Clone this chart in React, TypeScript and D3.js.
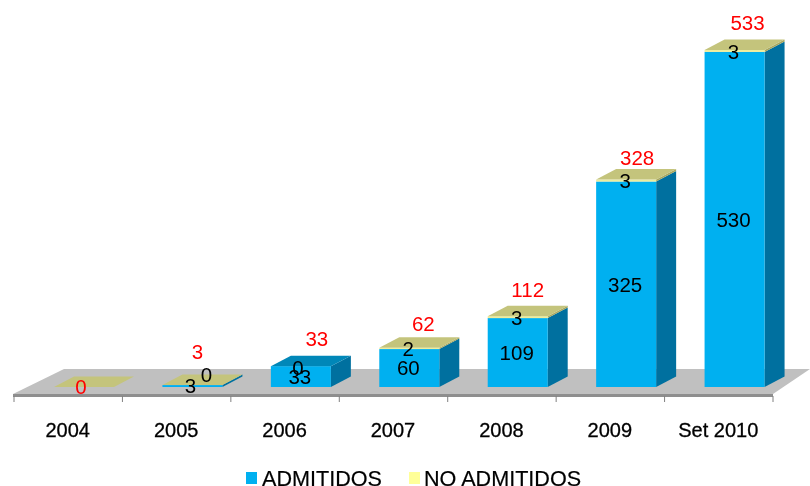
import React from "react";
import * as d3 from "d3";

const categories = ["2004", "2005", "2006", "2007", "2008", "2009", "Set 2010"];
const admitidos = [0, 3, 33, 60, 109, 325, 530];
const noAdmitidos = [0, 0, 0, 2, 3, 3, 3];
const totals = [0, 3, 33, 62, 112, 328, 533];
const showInner = [false, true, true, true, true, true, true];
const showUpper = [false, true, true, true, true, true, true];

// hand-placed label nudges seen in the reference (dx, dy from the default spot)
const totalNudgeX = [-3, 5, 16, 14, 10, 11, 13];
const totalNudgeY = [0, -33, -28, -24, -27, -22, -27];
const upperNudgeX = [0, 14, -3, -1, -1, -1, -1];
const upperNudgeY = [0, -10, 1, 0, 0, 0, 1];

const W = 810, H = 486;
const DX = 20, DY = -10.5;
const FONT = "'Liberation Sans', Arial, sans-serif";
const BLUE = "#00B0F0", BLUE_SIDE = "#00709F", BLUE_TOP = "#0087B8";
const Y_FRONT = "#EDED9C", Y_TOP = "#C4C47C", Y_SIDE = "#A8A860";

export default function App() {
  const x = d3.scaleBand<string>().domain(categories).range([14, 773]);
  const y = d3.scaleLinear().domain([0, 533]).range([387, 50]);
  const bw = 60;
  const left = (c: string) => (x(c) as number) + 40;
  const poly = (pts: [number, number][]) => pts.map((p) => p.join(",")).join(" ");
  const ticks = [...categories.map((c) => x(c) as number), 773];

  return (
    <svg width={W} height={H} style={{ position: "absolute", left: 0, top: 0, background: "#fff" }} fontFamily={FONT}>
      <defs>
        <filter id="soft" x="0" y="0" width="100%" height="100%">
          <feGaussianBlur stdDeviation="0.4" />
        </filter>
      </defs>
      <g filter="url(#soft)">
        {/* floor */}
        <polygon points={poly([[13, 394], [773, 394], [810, 369], [64, 369]])} fill="#C0C0C0" />
        <polygon points={poly([[13, 394], [773, 394], [773, 397], [13, 397]])} fill="#8E8E8E" />
        {ticks.map((t) => (
          <line key={t} x1={t} x2={t} y1={396} y2={402} stroke="#808080" strokeWidth={1} />
        ))}

        {/* bars */}
        {categories.map((c, i) => {
          const l = left(c), r = l + bw;
          const y0 = y(0), y1 = y(admitidos[i]), y2 = y(admitidos[i] + noAdmitidos[i]);
          const hasSeg = noAdmitidos[i] > 0;
          const topColor = hasSeg || admitidos[i] < 10 ? Y_TOP : BLUE_TOP;
          return (
            <g key={c}>
              {admitidos[i] > 0 && (
                <>
                  <polygon points={poly([[r, y0], [r + DX, y0 + DY], [r + DX, y1 + DY], [r, y1]])} fill={BLUE_SIDE} />
                  <rect x={l} y={y1} width={bw} height={y0 - y1} fill={BLUE} />
                </>
              )}
              {hasSeg && (
                <>
                  <polygon points={poly([[r, y1], [r + DX, y1 + DY], [r + DX, y2 + DY], [r, y2]])} fill={Y_SIDE} />
                  <rect x={l} y={y2} width={bw} height={y1 - y2} fill={Y_FRONT} />
                </>
              )}
              <polygon points={poly([[l, y2], [l + DX, y2 + DY], [r + DX, y2 + DY], [r, y2]])} fill={topColor} />
            </g>
          );
        })}

        {/* value labels */}
        <g fontSize={20.5} textAnchor="middle" fill="#000">
          {categories.map((c, i) => {
            const cx = left(c) + bw / 2;
            const y0 = y(0), y1 = y(admitidos[i]), y2 = y(admitidos[i] + noAdmitidos[i]);
            return (
              <g key={c}>
                {showInner[i] && (
                  <text x={cx - (i === 1 ? 2 : 1)} y={(y0 + y1) / 2} dy="0.36em">{admitidos[i]}</text>
                )}
                {showUpper[i] && (
                  <text x={cx + upperNudgeX[i]} y={(y1 + y2) / 2 + upperNudgeY[i]} dy="0.36em">{noAdmitidos[i]}</text>
                )}
              </g>
            );
          })}
        </g>

        {/* totals */}
        <g fontSize={20.5} textAnchor="middle" fill="#FF0000">
          {categories.map((c, i) => (
            <text key={c} x={left(c) + bw / 2 + totalNudgeX[i]} y={y(totals[i]) + totalNudgeY[i]} dy="0.36em">{totals[i]}</text>
          ))}
        </g>

        {/* category axis labels */}
        <g fontSize={20} textAnchor="middle" fill="#000" stroke="#000" strokeWidth={0.3}>
          {categories.map((c) => (
            <text key={c} x={(x(c) as number) + x.bandwidth() / 2 - 0.5} y={437}>{c}</text>
          ))}
        </g>

        {/* legend */}
        <g fontSize={21.6} fill="#000" stroke="#000" strokeWidth={0.2}>
          <rect x={246} y={472} width={11} height={12} fill={BLUE} stroke="none" />
          <text x={262} y={486}>ADMITIDOS</text>
          <rect x={409} y={472} width={11} height={12} fill="#FFFF99" stroke="none" />
          <text x={424} y={486}>NO ADMITIDOS</text>
        </g>
      </g>
    </svg>
  );
}
